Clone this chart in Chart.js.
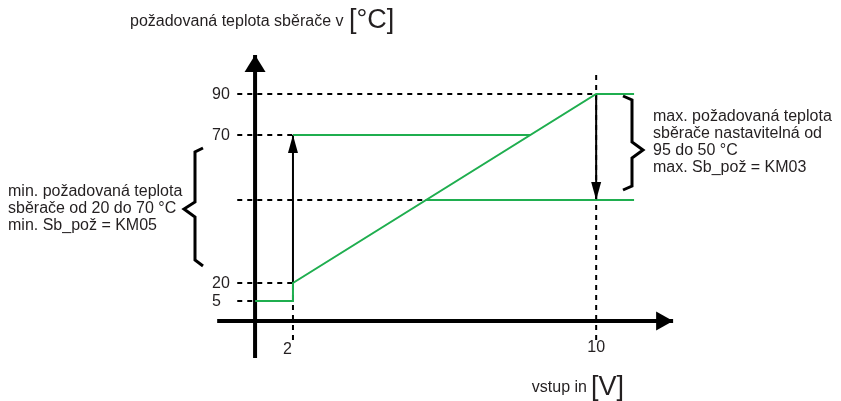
<!DOCTYPE html>
<html><head><meta charset="utf-8">
<script src="https://cdn.jsdelivr.net/npm/chart.js@4.4.1/dist/chart.umd.min.js"></script>
<style>html,body{margin:0;padding:0;background:#fff}#c{display:block}</style>
</head><body>
<canvas id="c" width="841" height="401"></canvas>
<script>
// ---- data ----
const tempTicks = [5, 20, 70, 90];          // °C labels on the vertical axis
const voltTicks = [2, 10];                  // V labels on the horizontal axis
const curveX = [1, 2, 2, 10, 11];           // main characteristic
const curveY = [5, 5, 20, 90, 90];
const minLineX = [2, 8.26];                 // min. setpoint line (70 °C)
const minLineY = [70, 70];
const maxLineX = [5.5, 11];                 // lowered max. setpoint line
const maxLineY = [50, 50];
const minArrowY = [20, 70];                 // arrow at 2 V
const maxArrowY = [90, 50];                 // arrow at 10 V
const refLevel = 50;
const yTitle = 'požadovaná teplota sběrače v';
const yUnit = '[°C]';
const xTitle = 'vstup in';
const xUnit = '[V]';
const leftNote = ['min. požadovaná teplota', 'sběrače od 20 do 70 °C', 'min. Sb_pož = KM05'];
const rightNote = ['max. požadovaná teplota', 'sběrače nastavitelná od', '95 do 50 °C', 'max. Sb_pož = KM03'];

// schematic (non-proportional) temperature axis
const knotT = [0, 5, 20, 50, 70, 90];
const knotH = [0, 20, 38, 121, 186, 227];
const H_MIN = -80, H_MAX = 321;
function toH(v) {
  const n = knotT.length;
  if (v <= knotT[0]) { const s = (knotH[1]-knotH[0])/(knotT[1]-knotT[0]); return knotH[0] + (v-knotT[0])*s; }
  for (let i = 1; i < n; i++) {
    if (v <= knotT[i]) return knotH[i-1] + (v-knotT[i-1])*(knotH[i]-knotH[i-1])/(knotT[i]-knotT[i-1]);
  }
  const s = (knotH[n-1]-knotH[n-2])/(knotT[n-1]-knotT[n-2]);
  return knotH[n-1] + (v-knotT[n-1])*s;
}
class SchematicScale extends Chart.LinearScale {
  getPixelForValue(v) { return this.getPixelForDecimal((toH(v) - H_MIN) / (H_MAX - H_MIN)); }
}
SchematicScale.id = 'schematic';
SchematicScale.defaults = Chart.LinearScale.defaults;
Chart.register(SchematicScale);

const GREEN = '#1fae4f';
const INK = '#000';
const TXT = '#231f20';
const FONT = '"Liberation Sans", Arial, sans-serif';
const zip = (xs, ys) => xs.map((x, i) => ({x, y: ys[i]}));
const line = (data, opts) => Object.assign({data, showLine: true, pointRadius: 0, fill: false, borderCapStyle: 'butt', borderJoinStyle: 'miter'}, opts);

const dashStart = 0.53;
const dashEnds = {5: 1, 20: 2, 70: 2, 90: 10};
const dashed = {borderColor: INK, borderWidth: 2, borderDash: [5, 5]};
const vDashLow = -4.75;

const datasets = [
  line(zip(curveX, curveY), {borderColor: GREEN, borderWidth: 2}),
  line(zip(minLineX, minLineY), {borderColor: GREEN, borderWidth: 2}),
  line(zip(maxLineX, maxLineY), {borderColor: GREEN, borderWidth: 2}),
  line(zip([2, 2], minArrowY), {borderColor: INK, borderWidth: 2, arrowHead: {len: 18, width: 10}}),
  line(zip([10, 10], maxArrowY), {borderColor: INK, borderWidth: 2, arrowHead: {len: 18, width: 10}}),
  ...tempTicks.map(t => line([{x: dashStart, y: t}, {x: dashEnds[t], y: t}], dashed)),
  line([{x: dashStart, y: refLevel}, {x: maxLineX[0], y: refLevel}], dashed),
  line([{x: voltTicks[0], y: vDashLow}, {x: voltTicks[0], y: minArrowY[0]}], dashed),
  line([{x: voltTicks[1], y: vDashLow}, {x: voltTicks[1], y: 99.3}], dashed),
  line([{x: 0, y: 0}, {x: 12.03, y: 0}], {borderColor: INK, borderWidth: 4, arrowHead: {len: 17, width: 19}}),
  line([{x: 1, y: -9.25}, {x: 1, y: 109}], {borderColor: INK, borderWidth: 4, arrowHead: {len: 17, width: 21}})
];

const decor = {
  id: 'decor',
  afterDatasetsDraw(chart) {
    const ctx = chart.ctx, xs = chart.scales.x, ys = chart.scales.y;
    ctx.save();
    // arrow heads
    chart.data.datasets.forEach((ds, i) => {
      if (!ds.arrowHead) return;
      const pts = chart.getDatasetMeta(i).data;
      const a = pts[pts.length - 2], b = pts[pts.length - 1];
      const dx = b.x - a.x, dy = b.y - a.y, L = Math.hypot(dx, dy);
      const ux = dx / L, uy = dy / L, px = -uy, py = ux;
      const {len, width} = ds.arrowHead;
      const bx = b.x - ux * len, by = b.y - uy * len;
      ctx.fillStyle = ds.borderColor;
      ctx.beginPath();
      ctx.moveTo(b.x, b.y);
      ctx.lineTo(bx + px * width / 2, by + py * width / 2);
      ctx.lineTo(bx - px * width / 2, by - py * width / 2);
      ctx.closePath();
      ctx.fill();
    });
    // braces
    ctx.strokeStyle = INK; ctx.lineWidth = 3; ctx.lineJoin = 'miter';
    const lt = ys.getPixelForValue(70) + 13, lb = ys.getPixelForValue(20) - 17, lm = (lt + lb) / 2 + 2;
    ctx.beginPath();
    ctx.moveTo(203, lt); ctx.lineTo(195, lt + 4); ctx.lineTo(195, lm - 7);
    ctx.lineTo(184, lm); ctx.lineTo(195, lm + 8); ctx.lineTo(195, lb - 6); ctx.lineTo(203, lb);
    ctx.stroke();
    const rt = ys.getPixelForValue(90) + 2, rb = ys.getPixelForValue(refLevel) - 10, rm = (rt + rb) / 2 + 7;
    ctx.beginPath();
    ctx.moveTo(623, rt); ctx.lineTo(632, rt + 4); ctx.lineTo(632, rm - 8);
    ctx.lineTo(643, rm); ctx.lineTo(632, rm + 8); ctx.lineTo(632, rb - 4); ctx.lineTo(623, rb);
    ctx.stroke();
    // tick labels
    ctx.fillStyle = TXT;
    ctx.font = '16px ' + FONT;
    ctx.textBaseline = 'middle';
    ctx.textAlign = 'left';
    tempTicks.forEach(t => ctx.fillText(String(t), 212, ys.getPixelForValue(t) + 1));
    ctx.textAlign = 'right';
    ctx.fillText(String(voltTicks[0]), xs.getPixelForValue(voltTicks[0]) - 1, 350);
    ctx.textAlign = 'center';
    ctx.fillText(String(voltTicks[1]), xs.getPixelForValue(voltTicks[1]), 348);
    // titles
    ctx.textBaseline = 'alphabetic';
    ctx.textAlign = 'left';
    ctx.font = '16px ' + FONT;
    ctx.fillText(yTitle, 130, 26);
    ctx.textAlign = 'right';
    ctx.fillText(xTitle, 587, 392);
    ctx.textAlign = 'left';
    ctx.font = '27px ' + FONT;
    ctx.fillText(yUnit, 349, 28);
    ctx.fillText(xUnit, 591, 395);
    // notes
    ctx.font = '16px ' + FONT;
    ctx.textBaseline = 'middle';
    leftNote.forEach((s, i) => ctx.fillText(s, 8, 192 + i * 17));
    rightNote.forEach((s, i) => ctx.fillText(s, 653, 117 + i * 17));
    ctx.restore();
  }
};

new Chart(document.getElementById('c'), {
  type: 'scatter',
  data: {datasets},
  options: {
    responsive: false,
    animation: false,
    layout: {padding: 0},
    plugins: {legend: {display: false}, tooltip: {enabled: false}},
    scales: {
      x: {type: 'linear', min: -5.73, max: 16.46, display: false},
      y: {type: 'schematic', min: -15, max: 150, display: false}
    }
  },
  plugins: [decor]
});
</script>
</body></html>
